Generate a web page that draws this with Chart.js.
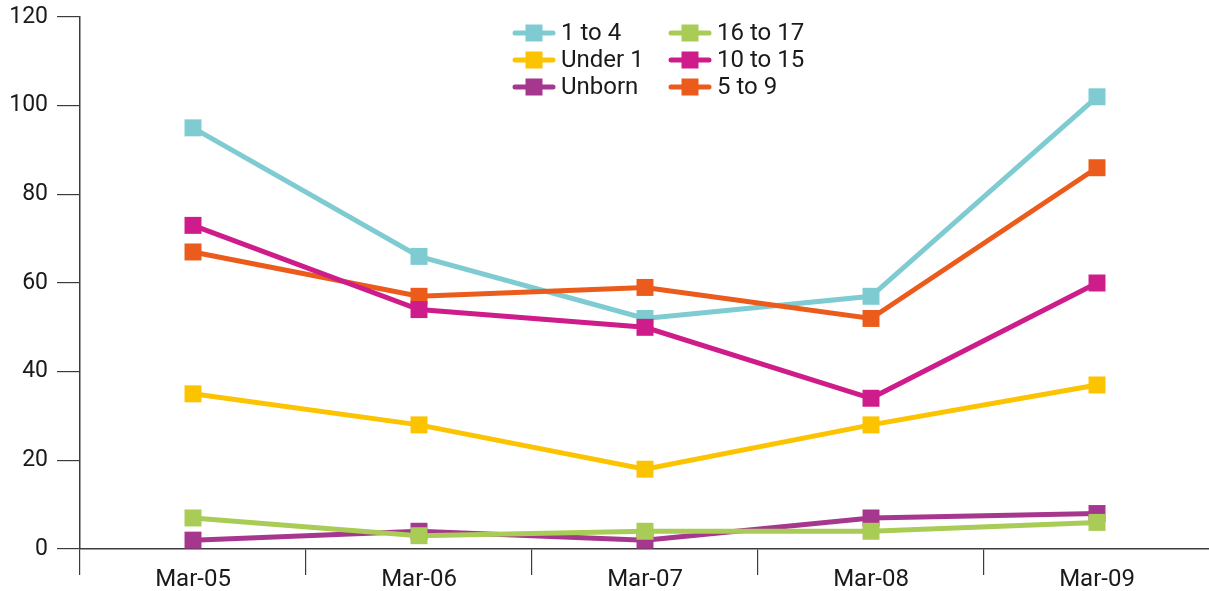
<!DOCTYPE html>
<html>
<head>
<meta charset="utf-8">
<script src="https://cdn.jsdelivr.net/npm/chart.js@4.4.0/dist/chart.umd.min.js"></script>
<style>
html,body{margin:0;padding:0;background:#fff;overflow:hidden;width:1209px;height:591px;}
#wrap{width:1222px;height:591px;position:relative;}
</style>
</head>
<body>
<div id="wrap"><canvas id="c"></canvas></div>
<script>
const categories = ["Mar-05","Mar-06","Mar-07","Mar-08","Mar-09"];
const yTicks = [0,20,40,60,80,100,120];
const oneToFour = [95,66,52,57,102];
const underOne = [35,28,18,28,37];
const unborn = [2,4,2,7,8];
const sixteenToSeventeen = [7,3,4,4,6];
const tenToFifteen = [73,54,50,34,60];
const fiveToNine = [67,57,59,52,86];

const seriesNames = ["1 to 4","Under 1","Unborn","16 to 17","10 to 15","5 to 9"];
const seriesData = [oneToFour,underOne,unborn,sixteenToSeventeen,tenToFifteen,fiveToNine];
const seriesColors = ["#7ECBD2","#FCC300","#A6378F","#A8CC55","#CE1D8A","#EA5B1C"];
const drawOrder = [3,2,1,4,5,0];

const FONT = "Roboto, 'DejaVu Sans', sans-serif";

const datasets = drawOrder.map(i => ({
  label: seriesNames[i],
  data: seriesData[i],
  borderColor: seriesColors[i],
  backgroundColor: seriesColors[i],
  borderWidth: 5,
  pointStyle: 'rect',
  pointRadius: 12,
  pointHoverRadius: 12,
  pointBorderWidth: 0,
  tension: 0
}));

const legendPlugin = {
  id: 'customLegend',
  afterDraw(chart) {
    const ctx = chart.ctx;
    const cols = [515, 671];
    const rows = [33, 60, 87];
    ctx.save();
    seriesNames.forEach((name, i) => {
      const col = Math.floor(i / 3), row = i % 3;
      const x = cols[col], y = rows[row];
      ctx.strokeStyle = seriesColors[i];
      ctx.lineWidth = 5;
      ctx.lineCap = 'round';
      ctx.beginPath();
      ctx.moveTo(x, y);
      ctx.lineTo(x + 38, y);
      ctx.stroke();
      ctx.fillStyle = seriesColors[i];
      ctx.fillRect(x + 19 - 8.5, y - 8.5, 17, 17);
      ctx.fillStyle = '#1a1a1a';
      ctx.font = '24px ' + FONT;
      ctx.textBaseline = 'middle';
      ctx.textAlign = 'left';
      ctx.fillText(name, x + 46, y + 1);
    });
    ctx.restore();
  }
};

new Chart(document.getElementById('c'), {
  type: 'line',
  data: { labels: categories, datasets },
  options: {
    responsive: true,
    maintainAspectRatio: false,
    animation: false,
    layout: { padding: { top: 17, right: 0, left: 0, bottom: 0 } },
    plugins: { legend: { display: false }, tooltip: { enabled: false } },
    scales: {
      x: {
        offset: true,
        grid: { offset: true, drawOnChartArea: false, drawTicks: true, tickLength: 26, color: '#3c3c3c', lineWidth: 1.2 },
        border: { display: true, color: '#3c3c3c', width: 1.5 },
        ticks: { color: '#1a1a1a', font: { family: FONT, size: 24 }, padding: -9, maxRotation: 0 },
        afterFit(s) { s.height = 42; s.paddingLeft = 0; s.paddingRight = 0; }
      },
      y: {
        min: 0, max: 120,
        afterBuildTicks(s) { s.ticks = yTicks.map(v => ({ value: v })); },
        grid: { drawOnChartArea: false, drawTicks: true, tickLength: 23, color: '#3c3c3c', lineWidth: 1.2 },
        border: { display: true, color: '#3c3c3c', width: 1.5 },
        ticks: { color: '#1a1a1a', font: { family: FONT, size: 23 }, padding: 9 },
        afterFit(s) { s.width = 80; s.paddingTop = 0; s.paddingBottom = 0; }
      }
    }
  },
  plugins: [legendPlugin]
});
</script>
</body>
</html>
